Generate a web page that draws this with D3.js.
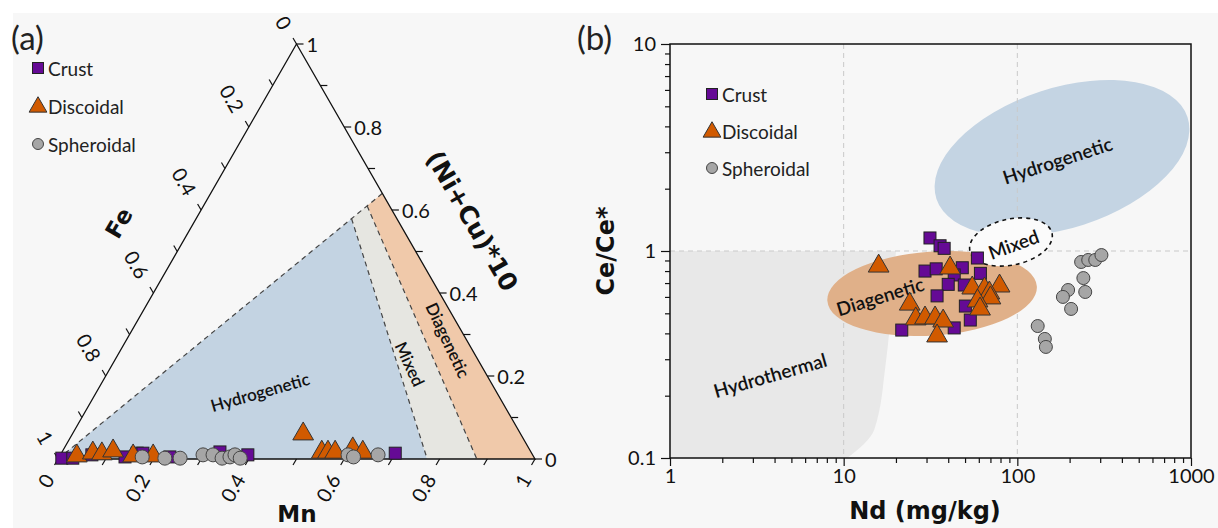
<!DOCTYPE html>
<html><head><meta charset="utf-8">
<script src="https://cdn.jsdelivr.net/npm/d3@7"></script>
<style>body{margin:0;background:#fff}svg{display:block}</style>
</head><body><svg id="c" width="1218" height="528"></svg>
<script>
// ================= DATA =================
// Panel (a): ternary Fe – Mn – (Ni+Cu)*10 ; stored as Mn and (Ni+Cu)*10 fractions (Fe = 1 - Mn - NiCu)
const ternCrustMn   = [0.007,0.030,0.066,0.138,0.159,0.171,0.232,0.331,0.393,0.700];
const ternCrustNiCu = [0.002,0.002,0.010,0.005,0.014,0.014,0.005,0.017,0.010,0.014];
const ternDiscMn    = [0.037,0.067,0.087,0.107,0.155,0.197,0.485,0.546,0.559,0.574,0.607,0.632];
const ternDiscNiCu  = [0.005,0.012,0.010,0.017,0.005,0.005,0.058,0.014,0.014,0.014,0.022,0.014];
const ternSphMn     = [0.174,0.223,0.255,0.299,0.320,0.343,0.358,0.366,0.381,0.603,0.617,0.666];
const ternSphNiCu   = [0.005,0.002,0.002,0.010,0.010,0.002,0.005,0.010,0.002,0.010,0.005,0.010];
// ternary field boundaries as [Mn, NiCu]
const fieldHydroTern = [[0,0],[0.326,0.579],[0.774,0]];
const fieldMixedTern = [[0.326,0.579],[0.343,0.610],[0.878,0],[0.774,0]];
const fieldDiagTern  = [[0.343,0.610],[0.360,0.640],[1,0],[0.878,0]];
const ternTickVals  = [0,0.1,0.2,0.3,0.4,0.5,0.6,0.7,0.8,0.9,1];
const ternTickLabels = ["0","0.2","0.4","0.6","0.8","1"];

// Panel (b): Ce/Ce* vs Nd (mg/kg)
const ndCrust  = [31.4,35.9,37.9,29.4,34.1,48.2,58.9,43.3,61.3,40.0,49.5,34.5,50.2,53.6,43.3,21.6];
const ceCrust  = [1.156,1.06,1.03,0.80,0.82,0.83,0.925,0.766,0.78,0.69,0.685,0.607,0.542,0.464,0.425,0.415];
const ndDisc   = [15.9,41,55,64.7,79,69,70,24,59,61,26,29.4,33.6,37.4,34.5];
const ceDisc   = [0.855,0.837,0.67,0.663,0.685,0.634,0.60,0.56,0.58,0.53,0.475,0.48,0.48,0.464,0.393];
const ndSph    = [233,256,281,305,240,246,196,183,204,131,144,146];
const ceSph    = [0.885,0.905,0.905,0.956,0.74,0.634,0.648,0.60,0.525,0.434,0.376,0.344];
// Hydrothermal field right boundary
const hydrothermNd = [20,19,17.5,15,10.5];
const hydrothermCe = [1,0.58,0.29,0.137,0.1];
// ellipse fields: centres in data units
const hydroEllipseCentre = [180.8,2.81];
const diagEllipseCentre  = [32.3,0.623];
const mixedEllipseCentre = [91.9,1.105];
const ndTicks = [1,10,100,1000];
const ceTicks = [0.1,1,10];
const ndTickLabels = ["1","10","100","1000"];
const ceTickLabels = ["0.1","1","10"];
const gridNd = [10,100];
const gridCe = [1];
const legendLabels = ["Crust","Discoidal","Spheroidal"];

// ================= STYLE =================
const C_CRUST="#650a95", C_DISC="#d15a00", C_SPH="#a6a6a6";
const FONT="Lato, 'Open Sans', sans-serif";
const TITLEFONT="'DejaVu Sans', Verdana, sans-serif";

const svg=d3.select("#c");
svg.append("rect").attr("width",1218).attr("height",528).attr("fill","#fff");
svg.append("rect").attr("x",13).attr("y",13).attr("width",1205).attr("height",515).attr("fill","#f7f7f7");

function marker(g,type,x,y,s){
  if(type==="sq") g.append("rect").attr("x",x-s/2).attr("y",y-s/2).attr("width",s).attr("height",s)
      .attr("fill",C_CRUST).attr("stroke","#222").attr("stroke-width",1);
  else if(type==="tri") g.append("path").attr("d",d3.symbol(d3.symbolTriangle,s*s*0.95)())
      .attr("transform",`translate(${x},${y+1})`).attr("fill",C_DISC).attr("stroke","#333").attr("stroke-width",1);
  else g.append("circle").attr("cx",x).attr("cy",y).attr("r",s/2).attr("fill",C_SPH).attr("stroke","#444").attr("stroke-width",1);
}
function legend(x,y0,gap){
  const g=svg.append("g");
  ["sq","tri","circ"].forEach((t,i)=>{
    marker(g,t,x,y0+i*gap,t==="circ"?11:(t==="tri"?12:11));
    g.append("text").attr("x",x+10).attr("y",y0+i*gap).attr("dominant-baseline","central")
      .attr("font-family",FONT).attr("font-size",19).attr("fill","#222").text(legendLabels[i]);
  });
}
function label(txt,x,y,rot,size,weight,family){
  svg.append("text").attr("transform",`translate(${x},${y}) rotate(${rot})`).attr("text-anchor","middle")
    .attr("dominant-baseline","central").attr("font-family",family||FONT).attr("font-size",size)
    .attr("font-weight",weight||600).attr("fill","#111").text(txt);
}

// ================= PANEL (a) =================
const tx=d3.scaleLinear().domain([0,1]).range([58,535]);
const ty=d3.scaleLinear().domain([0,1]).range([459,44]);
const P=(mn,nc)=>[tx(mn+nc/2),ty(nc)];
const line=d3.line();
[[fieldHydroTern,"#c3d3e2"],[fieldMixedTern,"#e6e6e1"],[fieldDiagTern,"#f0c9aa"]].forEach(([f,c])=>{
  svg.append("path").attr("d",line(f.map(p=>P(p[0],p[1])))+"Z").attr("fill",c);
});
const dashSegs=[[fieldHydroTern[0],fieldDiagTern[1]],[fieldHydroTern[1],fieldHydroTern[2]],[fieldMixedTern[1],fieldMixedTern[2]]];
dashSegs.forEach(s=>svg.append("path").attr("d",line(s.map(p=>P(p[0],p[1])))).attr("fill","none")
  .attr("stroke","#444").attr("stroke-width",1.2).attr("stroke-dasharray","5,4"));
const A=P(0,0),B=P(1,0),Ct=P(0,1);
svg.append("path").attr("d",line([A,B,Ct])+"Z").attr("fill","none").attr("stroke","#111").attr("stroke-width",1.3);
const c60=0.5,s60=Math.sqrt(3)/2;
ternTickVals.forEach(v=>{
  const isLab=[0,0.2,0.4,0.6,0.8,1].some(t=>Math.abs(t-v)<1e-9);
  const lab=ternTickLabels[Math.round(v*5)];
  let p=P(v,0), d=[-c60,s60];
  svg.append("line").attr("x1",p[0]).attr("y1",p[1]).attr("x2",p[0]+d[0]*7).attr("y2",p[1]+d[1]*7).attr("stroke","#111").attr("stroke-width",1.2);
  if(isLab) svg.append("text").attr("transform",`translate(${p[0]+d[0]*19},${p[1]+d[1]*19}) rotate(-60)`)
    .attr("text-anchor","end").attr("dominant-baseline","central").attr("font-family",FONT).attr("font-size",20).attr("fill","#111").text(lab);
  p=P(1-v,v);
  svg.append("line").attr("x1",p[0]).attr("y1",p[1]).attr("x2",p[0]+7).attr("y2",p[1]).attr("stroke","#111").attr("stroke-width",1.2);
  if(isLab) svg.append("text").attr("x",p[0]+10).attr("y",p[1]).attr("dominant-baseline","central")
    .attr("font-family",FONT).attr("font-size",20).attr("fill","#111").text(lab);
  p=P(0,1-v); d=[-c60,-s60];
  svg.append("line").attr("x1",p[0]).attr("y1",p[1]).attr("x2",p[0]+d[0]*7).attr("y2",p[1]+d[1]*7).attr("stroke","#111").attr("stroke-width",1.2);
  if(isLab) svg.append("text").attr("transform",`translate(${p[0]+d[0]*19},${p[1]+d[1]*19}) rotate(60)`)
    .attr("text-anchor","end").attr("dominant-baseline","central").attr("font-family",FONT).attr("font-size",20).attr("fill","#111").text(lab);
});
label("Hydrogenetic",260,392,-16,17,600);
label("Mixed",410,364,65,17,600);
label("Diagenetic",448,340,65,17,600);
label("Fe",119,223,-60,23,700,TITLEFONT);
label("(Ni+Cu)*10",472,221,60,25,700,TITLEFONT);
svg.append("text").attr("x",297).attr("y",522).attr("text-anchor","middle").attr("font-family",TITLEFONT)
  .attr("font-size",23).attr("font-weight",700).attr("fill","#111").text("Mn");
const ga=svg.append("g");
ternCrustMn.forEach((m,i)=>{const p=P(m,ternCrustNiCu[i]);marker(ga,"sq",p[0],p[1],12);});
ternDiscMn.forEach((m,i)=>{const p=P(m,ternDiscNiCu[i]);marker(ga,"tri",p[0],p[1]-2,14);});
ternSphMn.forEach((m,i)=>{const p=P(m,ternSphNiCu[i]);marker(ga,"circ",p[0],p[1],14);});
legend(38,68,38);
svg.append("text").attr("x",11).attr("y",50).attr("font-family",FONT).attr("font-size",33).attr("fill","#222").text("(a)");

// ================= PANEL (b) =================
const xs=d3.scaleLog().domain([1,1000]).range([670,1191]);
const ys=d3.scaleLog().domain([0.1,10]).range([458,44]);
const curvePts=hydrothermNd.map((n,i)=>[xs(n),ys(hydrothermCe[i])]);
const curvePath=d3.line().curve(d3.curveMonotoneY)(curvePts).replace(/^M/,"L");
svg.append("path").attr("d",`M${xs(1)},${ys(1)}${curvePath}L${xs(1)},${ys(0.1)}Z`).attr("fill","#e8e8e8");
function ellipse(c,rx,ry,rot,fill,stroke){
  const e=svg.append("ellipse").attr("transform",`translate(${xs(c[0])},${ys(c[1])}) rotate(${rot})`)
    .attr("rx",rx).attr("ry",ry).attr("fill",fill);
  if(stroke) e.attr("stroke","#111").attr("stroke-width",1.6).attr("stroke-dasharray","4,4");
}
ellipse(hydroEllipseCentre,132,70,-18,"#c4d4e3");
gridNd.forEach(n=>svg.append("line").attr("x1",xs(n)).attr("x2",xs(n)).attr("y1",ys(10)).attr("y2",ys(0.1))
  .attr("stroke","#c9c9c9").attr("stroke-width",1).attr("stroke-dasharray","5,4"));
gridCe.forEach(c=>svg.append("line").attr("x1",xs(1)).attr("x2",xs(1000)).attr("y1",ys(c)).attr("y2",ys(c))
  .attr("stroke","#c9c9c9").attr("stroke-width",1).attr("stroke-dasharray","5,4"));
ellipse(diagEllipseCentre,105,42,-4,"#e0b089");
ellipse(mixedEllipseCentre,42,23,-12,"#fbfbfb",true);
label("Hydrogenetic",xs(170),ys(2.75),-18,19,600);
label("Mixed",xs(95),ys(1.08),-20,19,600);
label("Diagenetic",xs(16.2),ys(0.606),-17,19,600);
label("Hydrothermal",xs(3.77),ys(0.252),-16,19,600);
const gb=svg.append("g");
ndCrust.forEach((n,i)=>marker(gb,"sq",xs(n),ys(ceCrust[i]),12));
ndDisc.forEach((n,i)=>marker(gb,"tri",xs(n),ys(ceDisc[i]),14));
ndSph.forEach((n,i)=>marker(gb,"circ",xs(n),ys(ceSph[i]),13));
function minorVals(lo,hi){const r=[];for(let e=lo;e<hi;e++)for(let k=2;k<=9;k++)r.push(k*Math.pow(10,e));return r;}
function styleAxis(g){g.select(".domain").remove();g.selectAll("line").attr("stroke","#111").attr("stroke-width",1.2);
  g.selectAll("text").attr("font-family",FONT).attr("font-size",20).attr("fill","#111");}
const gx=svg.append("g").attr("transform",`translate(0,${ys(0.1)})`)
  .call(d3.axisBottom(xs).tickValues(ndTicks).tickFormat((d,i)=>ndTickLabels[i]).tickSize(8).tickPadding(3));
styleAxis(gx);
const gx2=svg.append("g").attr("transform",`translate(0,${ys(0.1)})`)
  .call(d3.axisBottom(xs).tickValues(minorVals(0,3)).tickFormat("").tickSize(5));
styleAxis(gx2);
const gy=svg.append("g").attr("transform",`translate(${xs(1)},0)`)
  .call(d3.axisLeft(ys).tickValues(ceTicks).tickFormat((d,i)=>ceTickLabels[i]).tickSize(9).tickPadding(5));
styleAxis(gy);
const gy2=svg.append("g").attr("transform",`translate(${xs(1)},0)`)
  .call(d3.axisLeft(ys).tickValues(minorVals(-1,1)).tickFormat("").tickSize(5));
styleAxis(gy2);
svg.append("rect").attr("x",xs(1)).attr("y",ys(10)).attr("width",xs(1000)-xs(1)).attr("height",ys(0.1)-ys(10))
  .attr("fill","none").attr("stroke","#111").attr("stroke-width",1.5);
svg.append("text").attr("x",925).attr("y",519).attr("text-anchor","middle").attr("font-family",TITLEFONT)
  .attr("font-size",24).attr("font-weight",700).attr("fill","#111").text("Nd (mg/kg)");
svg.append("text").attr("transform",`translate(614,${ys(1)}) rotate(-90)`).attr("text-anchor","middle").attr("font-family",TITLEFONT)
  .attr("font-size",24).attr("font-weight",700).attr("fill","#111").text("Ce/Ce*");
legend(712,94,37);
svg.append("text").attr("x",577).attr("y",50).attr("font-family",FONT).attr("font-size",33).attr("fill","#222").text("(b)");
</script></body></html>
